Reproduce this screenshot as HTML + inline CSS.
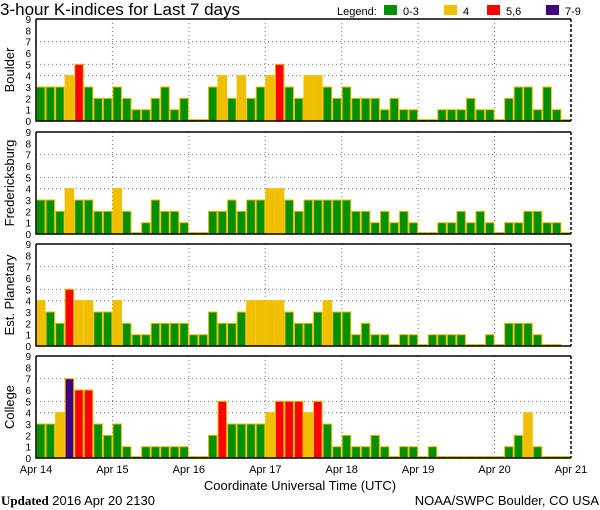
<!DOCTYPE html>
<html><head><meta charset="utf-8"><style>
body{margin:0;background:#fff}
svg{display:block;font-family:"Liberation Sans",sans-serif}
</style></head><body>
<svg id="c" width="600" height="510"></svg>
<script>
const stations = ["Boulder","Fredericksburg","Est. Planetary","College"];
const boulder = [3,3,3,4,5,3,2,2, 3,2,1,1,2,3,1,2, 0,0,3,4,2,4,2,3, 4,5,3,2,4,4,3,2, 3,2,2,2,1,2,1,1, 0,0,1,1,1,2,1,1, 0,2,3,3,1,3,1,0];
const fredericksburg = [3,3,2,4,3,3,2,2, 4,2,0,1,3,2,2,1, 0,0,2,2,3,2,3,3, 4,4,3,2,3,3,3,3, 3,2,2,1,2,1,2,1, 0,0,1,1,2,1,2,1, 0,1,1,2,2,1,1,0];
const planetary = [4,3,2,5,4,4,3,3, 4,2,1,1,2,2,2,2, 1,1,3,2,2,3,4,4, 4,4,3,2,2,3,4,3, 3,1,2,1,1,0,1,1, 0,1,1,1,1,0,0,1, 0,2,2,2,1,0,0,null];
const college = [3,3,4,7,6,6,3,2, 3,1,0,1,1,1,1,1, 0,0,2,5,3,3,3,3, 4,5,5,5,4,5,3,1, 2,1,1,2,1,0,1,1, 0,1,0,0,0,0,0,0, 0,1,2,4,1,0,0,0];
const dayLabels = ["Apr 14","Apr 15","Apr 16","Apr 17","Apr 18","Apr 19","Apr 20","Apr 21"];
const yTicks = [0,1,2,3,4,5,6,7,8,9];
const gridLevels = [4,5,7];

const series=[boulder,fredericksburg,planetary,college];
const svg=document.getElementById('c');
const NS="http://www.w3.org/2000/svg";
function mk(t,a,p){const e=document.createElementNS(NS,t);for(const k in a)e.setAttribute(k,a[k]);(p||svg).appendChild(e);return e;}
const X0=36,X1=571,tops=[19,132,244,356],PH=102,N=56,BW=(X1-X0)/N;
const xDay=d=>X0+d*(X1-X0)/7;
const yv=(top,v)=>top+PH-v*PH/9;
function col(v){return v<=3?"#009000":v==4?"#f0c000":v<=6?"#ff0000":"#400080";}

let t=mk('text',{x:0,y:15,'font-size':17});t.textContent="3-hour K-indices for Last 7 days";

let lt=mk('text',{x:337,y:15,'font-size':11});lt.textContent="Legend:";

[["0-3","#009000",384],["4","#f0c000",444],["5,6","#ff0000",487],["7-9","#400080",546]].forEach(l=>{
 const g=mk('g',{});
 
 mk('rect',{x:l[2],y:5,width:13,height:10,fill:l[1]},g);
 const tx=mk('text',{x:l[2]+19,y:15,'font-size':11},g);tx.textContent=l[0];
});

stations.forEach((name,si)=>{
 const top=tops[si],data=series[si],bot=top+PH;
 const g=mk('g',{});
 
 
 gridLevels.forEach(v=>mk('line',{x1:X0,x2:X1,y1:yv(top,v),y2:yv(top,v),stroke:'#777','stroke-dasharray':'1,3'},g));
 for(let d=1;d<7;d++)mk('line',{x1:xDay(d),x2:xDay(d),y1:top,y2:bot,stroke:'#777','stroke-dasharray':'1,3'},g);
 data.forEach((v,i)=>{
  if(v===null)return;
  const h=Math.max(v*PH/9,1.5);
  const r=mk('rect',{x:X0+i*BW+0.5,y:bot-h,width:BW-1,height:h,fill:col(v),stroke:'#f0c000','stroke-width':1},g);
  
  
 });
 mk('path',{d:`M${X0} ${top}H${X1}M${X0} ${top}V${bot}H${X1}`,stroke:'#000','stroke-width':1.5,fill:'none'},g);
 mk('line',{x1:X1,x2:X1,y1:top,y2:bot,stroke:'#000','stroke-width':1.5,'stroke-dasharray':'3,2'},g);
 yTicks.forEach(v=>{const tt=mk('text',{x:31,y:yv(top,v)+4,'font-size':10,'text-anchor':'end'},g);tt.textContent=v;});
 const yl=mk('text',{transform:`translate(14,${top+PH/2}) rotate(-90)`,'font-size':13,'text-anchor':'middle'},g);
 yl.textContent=name;
 
});
dayLabels.forEach((d,i)=>{const tt=mk('text',{x:xDay(i),y:473,'font-size':11,'text-anchor':'middle'});tt.textContent=d;
 });
let xt=mk('text',{x:300,y:490,'font-size':13,'text-anchor':'middle'});xt.textContent="Coordinate Universal Time (UTC)";

let up=mk('text',{x:1,y:505,'font-size':13});
up.innerHTML='<tspan font-family="Liberation Serif" font-weight="bold">Updated</tspan> 2016 Apr 20 2130';

let src=mk('text',{x:599,y:505,'font-size':13,'text-anchor':'end'});src.textContent="NOAA/SWPC Boulder, CO USA";

</script>
</body></html>
